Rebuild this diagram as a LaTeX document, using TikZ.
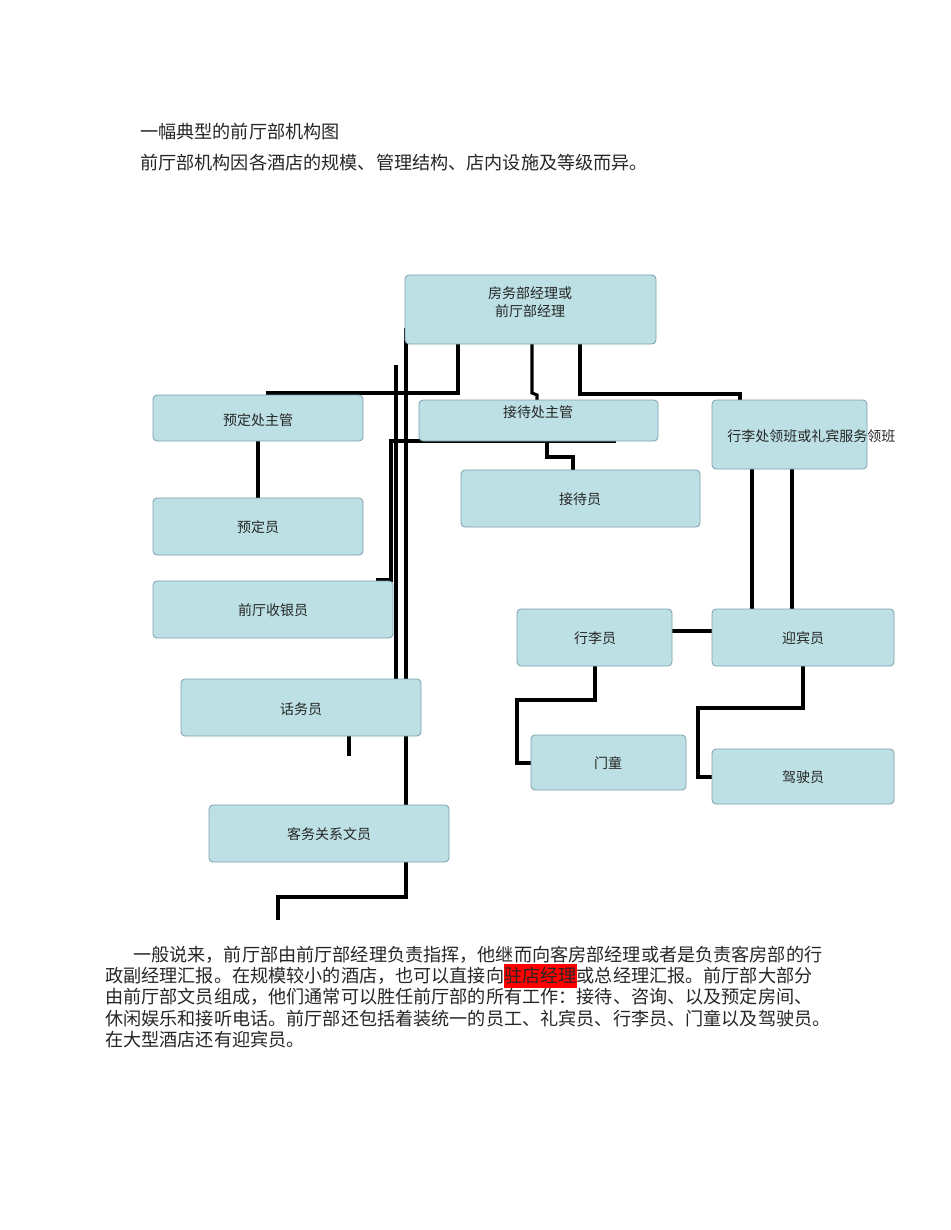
\documentclass[tikz,border=0pt]{standalone}
\usepackage{fontspec}
\setmainfont{Noto Sans CJK SC}
\begin{document}
\begin{tikzpicture}[x=0.75pt,y=-0.75pt,
  box/.style={draw=gray!70!cyan,fill=bluebox,rounded corners=3pt,line width=0.6pt},
  ln/.style={line width=2.3pt,line cap=rect},
  bt/.style={font=\fontsize{10.5pt}{13pt}\selectfont,text=black!85},
  para/.style={anchor=west,inner sep=0,font=\fontsize{13.6pt}{16pt}\selectfont,text=black!85}]
\definecolor{bluebox}{HTML}{BCE0E4}
\useasboundingbox (0,0) rectangle (950,1230);
% connectors (behind boxes)
\draw[ln] (406,330) -- (406,897) -- (278,897) -- (278,918);
\draw[ln] (396,367) -- (396,680);
\draw[ln] (614,441) -- (391,441) -- (391,580) -- (378,580);
\draw[ln] (268,400) -- (268,393) -- (458,393) -- (458,344);
\draw[ln] (532,344) -- (532,393) -- (537,395) -- (537,401);
\draw[ln] (580,344) -- (580,394) -- (740,394) -- (740,401);
\draw[ln] (547,441) -- (547,457) -- (573,457) -- (573,470);
\draw[ln] (258,441) -- (258,498);
\draw[ln] (752,469) -- (752,609);
\draw[ln] (792,469) -- (792,609);
\draw[ln] (672,631) -- (712,631);
\draw[ln] (595,666) -- (595,700) -- (517,700) -- (517,763) -- (531,763);
\draw[ln] (803,666) -- (803,708) -- (698,708) -- (698,777) -- (712,777);
\draw[ln] (349,736) -- (349,754);
% boxes
\draw[box] (405,275) rectangle (656,344);
\node[bt,align=center] (top) at (530,302) {房务部经理或\\前厅部经理};
\draw[box] (153,395) rectangle (363,441); \node[bt] (yd) at (258,420) {预定处主管};
\draw[box] (419,400) rectangle (658,441); \node[bt] (jd) at (538,412) {接待处主管};
\draw[box] (712,400) rectangle (867,469); \node[bt,anchor=west,inner sep=0] (xl) at (727,436) {行李处领班或礼宾服务领班};
\draw[box] (461,470) rectangle (700,527); \node[bt] (jdy) at (580,499) {接待员};
\draw[box] (153,498) rectangle (363,555); \node[bt] (ydy) at (258,527) {预定员};
\draw[box] (153,581) rectangle (393,638); \node[bt] (sy) at (273,610) {前厅收银员};
\draw[box] (517,609) rectangle (672,666); \node[bt] (xly) at (595,638) {行李员};
\draw[box] (712,609) rectangle (894,666); \node[bt] (ybl) at (803,638) {迎宾员};
\draw[box] (181,679) rectangle (421,736); \node[bt] (hw) at (301,709) {话务员};
\draw[box] (531,735) rectangle (686,790); \node[bt] (mt) at (608,763) {门童};
\draw[box] (712,749) rectangle (894,804); \node[bt] (js) at (803,777) {驾驶员};
\draw[box] (209,805) rectangle (449,862); \node[bt] (kw) at (329,834) {客务关系文员};
% texts
\node[para] (t1) at (140,132) {一幅典型的前厅部机构图};
\node[para] (t2) at (140,163) {前厅部机构因各酒店的规模、管理结构、店内设施及等级而异。};
\node[para] (p1) at (133,955) {一般说来，前厅部由前厅部经理负责指挥，他继而向客房部经理或者是负责客房部的行};
\node[para] (p2) at (105,976) {政副经理汇报。在规模较小的酒店，也可以直接向\colorbox{red}{\kern-3pt 驻店经理\kern-3pt}或总经理汇报。前厅部大部分};
\node[para] (p3) at (105,997) {由前厅部文员组成，他们通常可以胜任前厅部的所有工作：接待、咨询、以及预定房间、};
\node[para] (p4) at (105,1019) {休闲娱乐和接听电话。前厅部还包括着装统一的员工、礼宾员、行李员、门童以及驾驶员。};
\node[para] (p5) at (105,1040) {在大型酒店还有迎宾员。};
\end{tikzpicture}
\end{document}
